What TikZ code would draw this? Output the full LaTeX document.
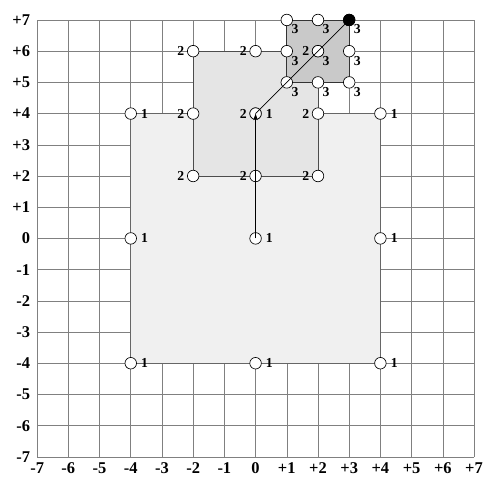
\documentclass[tikz,border=0pt]{standalone}
\usepackage{fontspec}
\setmainfont{Liberation Serif}
\usetikzlibrary{arrows.meta}

\begin{document}
\begin{tikzpicture}[
    pt/.style={circle, draw, fill=white, inner sep=0pt, minimum size=0.37cm, line width=0.6pt},
    endpt/.style={pt, fill=black},
    tag/.style={font=\fontsize{12.5}{12.5}\selectfont\bfseries, inner sep=0pt},
    axis/.style={font=\fontsize{15}{15}\selectfont\bfseries, inner sep=0pt},
    gridline/.style={gray, line width=0.5pt},
    one/.style={label={[tag, label distance=0.13cm]right:1}},
    two/.style={label={[tag, label distance=0.08cm]left:2}},
    three/.style={label={[tag, label distance=0.01cm]below right:3}},
    move/.style={-{Stealth[length=6pt, width=4pt]}, line width=0.6pt}
]
    \useasboundingbox (-8.19,-7.70) rectangle (7.32,7.64);

    % Grid and axis numbers
    \draw[gridline] (-7,-7) grid (7,7);
    \foreach \v in {-7,...,7} {
        \node[axis, anchor=east] (yl\v) at (-7.22,\v) {\ifnum\v>0 +\fi\v};
        \node[axis, anchor=north] (xl\v) at (\v,-7.17) {\ifnum\v>0 +\fi\v};
    }

    % Squares
    \draw[gray!80!black, line width=0.8pt, fill=gray!12] (-4,-4) rectangle (4,4);
    \draw[gray!60!black, line width=0.8pt, fill=gray!20] (-2,2) rectangle (2,6);
    \draw[gray!40!black, line width=0.8pt, fill=gray!42] (1,5) rectangle (3,7);

    % Points of the large square
    \foreach \x in {-4,0,4}
        \foreach \y in {-4,0,4}
            \node[pt, one] (L\x\y) at (\x,\y) {};

    % Points of the middle square
    \foreach \x in {-2,0,2}
        \foreach \y in {2,4,6}
            \node[pt, two] (M\x\y) at (\x,\y) {};

    % Points of the small square
    \foreach \x in {1,2,3}
        \foreach \y in {5,6,7}
            \node[pt, three] (S\x\y) at (\x,\y) {};
    \node[endpt] (end) at (S37) {};

    % Moves
    \draw[move] (L00.center) -- (M04.center);
    \draw[move] (M04.center) -- (end.center);
\end{tikzpicture}
\end{document}
